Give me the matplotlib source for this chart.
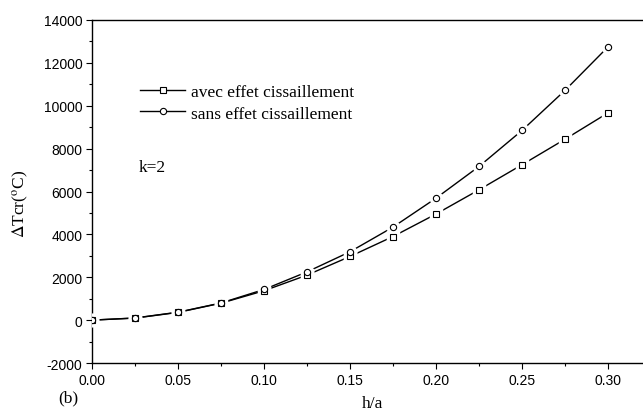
import matplotlib.pyplot as plt
from matplotlib.lines import Line2D

plt.rcParams['mathtext.fontset'] = 'stix'

# Données
h_a = [0.0, 0.025, 0.05, 0.075, 0.10, 0.125, 0.15, 0.175, 0.20, 0.225, 0.25, 0.275, 0.30]
avec_cis = [0, 95, 360, 790, 1370, 2100, 2970, 3900, 4950, 6080, 7250, 8440, 9670]
sans_cis = [0, 100, 370, 800, 1430, 2250, 3190, 4340, 5690, 7170, 8850, 10720, 12750]

xticks = [0.00, 0.05, 0.10, 0.15, 0.20, 0.25, 0.30]
yticks = [-2000, 0, 2000, 4000, 6000, 8000, 10000, 12000, 14000]

serif = 'Liberation Serif'
sans = 'Liberation Sans'
fs = 12.5

fig = plt.figure(figsize=(6.43, 4.14), dpi=100)
ax = fig.add_axes([92 / 643, 1 - 364 / 414, 1 - 92 / 643, (364 - 21) / 414])

# Courbes avec des interruptions autour des marqueurs (style Origin)
for y, m in [(avec_cis, 's'), (sans_cis, 'o')]:
    ax.plot(h_a, y, '-', color='black', lw=1.0, zorder=2)
    ax.plot(h_a, y, m, ms=7.5, mfc='white', mec='white', mew=2.5, zorder=3)
    ax.plot(h_a, y, m, ms=4.5, mfc='white', mec='black', mew=0.8, zorder=4)

ax.set_xlim(0.0, 0.3203)
ax.set_ylim(-2000, 14000)
ax.set_xticks(xticks)
ax.set_xticklabels([f"{v:.2f}" for v in xticks], fontfamily=sans, fontsize=10)
ax.set_yticks(yticks)
ax.set_yticklabels([str(v) for v in yticks], fontfamily=sans, fontsize=10)
ax.set_xticks([0.025, 0.075, 0.125, 0.175, 0.225, 0.275], minor=True)
ax.set_yticks(list(range(-1000, 14000, 2000)), minor=True)
ax.tick_params(which='major', direction='out', length=4, width=0.8, pad=3)
ax.tick_params(which='minor', direction='out', length=2.5, width=0.8)
ax.spines['right'].set_visible(False)
for s in ['top', 'left', 'bottom']:
    ax.spines[s].set_linewidth(1.0)

ax.set_xlabel('h/a', fontfamily=serif, fontsize=fs, va='center')
ax.xaxis.set_label_coords((373 - 92) / 551, (364 - 404) / 343)
ax.set_ylabel(r'$\Delta$Tcr($^{\mathrm{o}}$C)', fontfamily=serif, fontsize=fs, va='center')
ax.yaxis.set_label_coords((21 - 92) / 551, (364 - 204) / 343)

handles = [Line2D([], [], color='black', lw=1.0, marker='s', ms=4.5, mfc='white', mec='black', mew=0.8),
           Line2D([], [], color='black', lw=1.0, marker='o', ms=4.5, mfc='white', mec='black', mew=0.8)]
ax.legend(handles, ['avec effet cissaillement', 'sans effet cissaillement'],
          loc='upper left', bbox_to_anchor=(48 / 551, (364 - 85) / 343), frameon=False,
          prop={'family': serif, 'size': fs}, handlelength=2.6, handletextpad=0.35,
          labelspacing=0.3, borderaxespad=0, borderpad=0)

ax.text(47 / 551, (364 - 168) / 343, 'k=2', transform=ax.transAxes,
        fontfamily=serif, fontsize=fs, va='center')
fig.text(58 / 643, 1 - 398 / 414, '(b)', fontfamily=serif, fontsize=fs, va='center')

fig.savefig('out.png', dpi=100)
